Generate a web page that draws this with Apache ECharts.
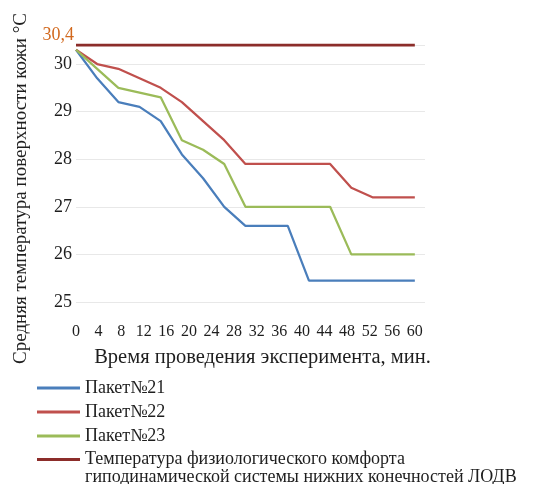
<!DOCTYPE html>
<html><head><meta charset="utf-8">
<script src="https://cdn.jsdelivr.net/npm/echarts@6/dist/echarts.min.js"></script>
<style>html,body{margin:0;padding:0;background:#fff}#c{width:542px;height:484px}</style>
</head><body><div id="c"></div>
<script>
// ---- data ----
const times = [0, 3.75, 7.5, 11.25, 15, 18.75, 22.5, 26.25, 30, 33.75, 37.5, 41.25, 45, 48.75, 52.5, 56.25, 60];
const pack21 = [30.3, 29.7, 29.2, 29.1, 28.8, 28.1, 27.6, 27.0, 26.6, 26.6, 26.6, 25.45, 25.45, 25.45, 25.45, 25.45, 25.45];
const pack22 = [30.3, 30.0, 29.9, 29.7, 29.5, 29.2, 28.8, 28.4, 27.9, 27.9, 27.9, 27.9, 27.9, 27.4, 27.2, 27.2, 27.2];
const pack23 = [30.3, 29.9, 29.5, 29.4, 29.3, 28.4, 28.2, 27.9, 27.0, 27.0, 27.0, 27.0, 27.0, 26.0, 26.0, 26.0, 26.0];
const comfortTimes = [0, 60];
const comfortVals = [30.4, 30.4];
const xTickLabels = [0, 4, 8, 12, 16, 20, 24, 28, 32, 36, 40, 44, 48, 52, 56, 60];
const yTickLabels = [25, 26, 27, 28, 29, 30];
const comfortLabel = '30,4';
const names = ['Пакет№21', 'Пакет№22', 'Пакет№23',
  'Температура физиологического комфорта\nгиподинамической системы нижних конечностей ЛОДВ'];
const xTitle = 'Время проведения эксперимента, мин.';
const yTitle = 'Средняя температура поверхности кожи °С';

const pair = (xs, ys) => xs.map((x, i) => [x, ys[i]]);
const FONT = "'Liberation Serif', 'Times New Roman', 'DejaVu Serif', serif";
const TXT = '#1e1e1e';

const chart = echarts.init(document.getElementById('c'), null, {renderer: 'canvas'});
chart.setOption({
  animation: false,
  backgroundColor: '#fff',
  textStyle: {fontFamily: FONT},
  grid: {left: 76, right: 117, top: 45, bottom: 182, containLabel: false},
  xAxis: {
    type: 'value', min: 0, max: 61.8, interval: 4,
    axisLine: {show: false}, axisTick: {show: false}, splitLine: {show: false},
    axisLabel: {
      showMaxLabel: false, margin: 22, color: TXT, fontFamily: FONT, fontSize: 16,
      formatter: v => xTickLabels.includes(v) ? String(v) : ''
    },
    name: xTitle, nameLocation: 'middle', nameGap: 45,
    nameTextStyle: {color: TXT, fontFamily: FONT, fontSize: 20.5, padding: [0, 0, 0, 24]}
  },
  yAxis: {
    type: 'value', min: 25, max: 30.4, interval: 1,
    axisLine: {show: false}, axisTick: {show: false},
    splitLine: {lineStyle: {color: '#e8e8e8', width: 1}},
    axisLabel: {
      showMaxLabel: false, margin: 4, color: TXT, fontFamily: FONT, fontSize: 18,
      formatter: v => yTickLabels.includes(v) ? String(v) : ''
    },
    name: yTitle, nameLocation: 'middle', nameGap: 45, nameRotate: 90,
    nameTextStyle: {color: TXT, fontFamily: FONT, fontSize: 19, padding: [0, 30, 0, 0]}
  },
  legend: [{
    data: names.slice(0, 3), orient: 'vertical', left: 37, top: 377, padding: 0,
    icon: 'rect', itemWidth: 43, itemHeight: 3, itemGap: 2,
    textStyle: {color: TXT, fontFamily: FONT, fontSize: 18, lineHeight: 22}
  }, {
    data: [names[3]], orient: 'vertical', left: 37, top: 448.5, padding: 0,
    icon: 'rect', itemWidth: 43, itemHeight: 3,
    formatter: n => n.split('\n')[0],
    textStyle: {color: TXT, fontFamily: FONT, fontSize: 18, lineHeight: 22}
  }],
  graphic: [{
    type: 'text', x: 74, y: 35,
    style: {text: comfortLabel, fill: '#D2691E', font: '18px ' + FONT, align: 'right', verticalAlign: 'middle'}
  }, {
    type: 'text', x: 85, y: 477,
    style: {text: names[3].split('\n')[1], fill: TXT, font: '18px ' + FONT, align: 'left', verticalAlign: 'middle'}
  }],
  series: [
    {name: names[0], type: 'line', data: pair(times, pack21), showSymbol: false, symbol: 'none',
     lineStyle: {color: '#4A7EBB', width: 2.25}, itemStyle: {color: '#4A7EBB'}},
    {name: names[1], type: 'line', data: pair(times, pack22), showSymbol: false, symbol: 'none',
     lineStyle: {color: '#C0504D', width: 2.25}, itemStyle: {color: '#C0504D'}},
    {name: names[2], type: 'line', data: pair(times, pack23), showSymbol: false, symbol: 'none',
     lineStyle: {color: '#9BBB59', width: 2.25}, itemStyle: {color: '#9BBB59'}},
    {name: names[3], type: 'line', data: pair(comfortTimes, comfortVals), showSymbol: false, symbol: 'none',
     lineStyle: {color: '#8C2D2A', width: 3}, itemStyle: {color: '#8C2D2A'}}
  ]
});
</script></body></html>
